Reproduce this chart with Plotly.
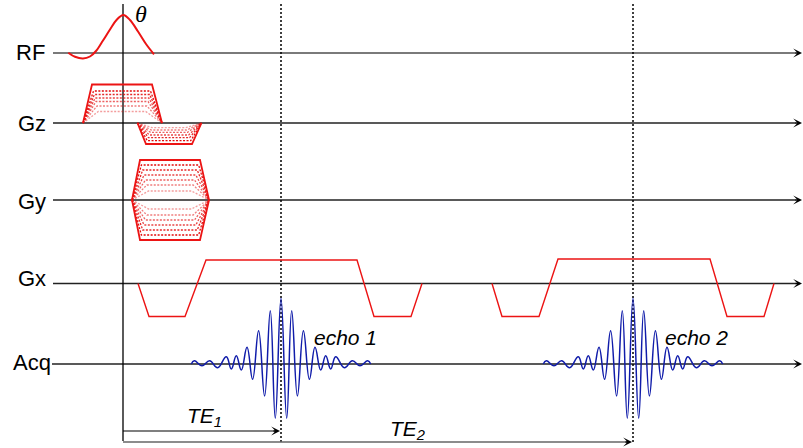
import plotly.graph_objects as go

# ---------------- data (time in display units, amplitude positive = up) ----------------
CHANNELS = ["RF", "Gz", "Gy", "Gx", "Acq"]

# RF sinc pulse
RF_T = [68.3, 75, 83, 90, 96, 103, 110, 116.5, 123.3, 130, 138, 146, 154]
RF_A = [0.3, -3.8, -5.5, -3.5, 2, 12.5, 23.5, 33, 38, 33, 21.5, 9, -1.3]
FLIP_LABEL = "θ"

# Gz slice-select lobe and rephaser: corner times + amplitude levels
GZ_SS_T = [83, 92, 152, 162]
GZ_SS_LEVELS = [38.5, 32, 28.5, 25, 21.5, 17, 11.5]
GZ_RE_T = [137.5, 146, 192, 201.5]
GZ_RE_LEVELS = [-21, -17.7, -14.7, -12, -9.3, -7, -4.7]

# Gy phase-encode table
GY_T = [132, 140, 200, 209]
GY_LEVELS = [40, 35, 30, 25, 20, 15, 9]

# Gx readout (two echoes)
GX_T = [138, 149, 185, 206, 357, 374, 411, 422, None,
        492, 502, 539, 558, 710, 727, 764, 774]
GX_A = [0, -33, -33, 23.5, 23.5, -33, -33, 0, None,
        0, -33, -33, 24.5, 24.5, -33, -33, 0]

# Echo signal extrema (offset from echo centre, amplitude)
ECHO_CENTERS = [281, 633]
ECHO_DT = [-89.7, -86.7, -79, -71.4, -63.4, -54.7, -49.7, -44.7, -39.7, -34, -28.4,
           -22.4, -16.4, -10.7, -5.7, 0, 5.7, 10.7, 16.4, 22.4, 28.4, 34, 39.7,
           44.7, 49.7, 54.7, 63.4, 71.4, 79, 86.7, 89.7]
ECHO_A = [0, 3.3, -1.7, 3.3, -3.7, 7.3, -5, 8.3, -6, 16.7, -15.3,
          33.3, -32, 53.3, -54.3, 65.7, -54.3, 53.3, -32, 33.3, -15.3, 16.7, -6,
          8.3, -5, 7.3, -3.7, 3.3, -1.7, 3.3, 0]
ECHO_LABELS = ["echo 1", "echo 2"]
TE_LABELS = ["TE<sub>1</sub>", "TE<sub>2</sub>"]

# ---------------- layout constants ----------------
W, H = 803, 448
BASE_Y = {"RF": 53, "Gz": 123, "Gy": 200, "Gx": 283.5, "Acq": 364}
AXIS_START = {"RF": 53, "Gz": 53, "Gy": 53, "Gx": 53, "Acq": 52}
AXIS_END = 802
T0 = 123
RED = "rgb(236,20,20)"
BLUE = "rgb(16,28,170)"
FONT = "Liberation Sans, Arial, sans-serif"

fig = go.Figure()


def line(xs, ys, color="black", width=1.3, dash="solid", shape="linear", smoothing=1.0):
    fig.add_trace(go.Scatter(x=xs, y=ys, mode="lines",
                             line=dict(color=color, width=width, dash=dash,
                                       shape=shape, smoothing=smoothing),
                             hoverinfo="skip", showlegend=False))


def y_of(ch, a):
    return None if a is None else BASE_Y[ch] - a


# baselines
for ch in CHANNELS:
    col = "#7a7a7a" if ch == "RF" else "#222222"
    wd = 2.2 if ch == "RF" else 1.3
    line([AXIS_START[ch], AXIS_END - 6], [BASE_Y[ch]] * 2, color=col, width=wd)

# time-zero vertical line
line([T0, T0], [4, 441], color="black", width=1.3)

# echo centre dotted lines
for tc in ECHO_CENTERS:
    line([tc, tc], [4, 442], color="black", width=1.5, dash="2px,2px")


def trapezoid(ch, times, levels, ramp_grow):
    t0, t1, t2, t3 = times
    amax = abs(levels[0])
    n = len(levels)
    # inner levels dotted and fading, outer level solid (drawn last)
    for i in range(n - 1, -1, -1):
        a = levels[i]
        frac = abs(a) / amax
        r1 = (t1 - t0) + (1 - frac) * ramp_grow
        r2 = (t3 - t2) + (1 - frac) * ramp_grow
        xs = [t0, t0 + r1, t3 - r2, t3]
        ys = [y_of(ch, 0), y_of(ch, a), y_of(ch, a), y_of(ch, 0)]
        if i == 0:
            line(xs, ys, color=RED, width=1.8)
        else:
            alpha = 1.0 - 0.6 * (i - 1) / max(1, n - 2)
            line(xs, ys, color=f"rgba(226,10,10,{alpha:.2f})", width=1.3, dash="2px,1.5px")


trapezoid("Gz", GZ_SS_T, GZ_SS_LEVELS, 9)
trapezoid("Gz", GZ_RE_T, GZ_RE_LEVELS, 8)
trapezoid("Gy", GY_T, GY_LEVELS, 11)
trapezoid("Gy", GY_T, [-v for v in GY_LEVELS], 11)

# RF pulse
line(RF_T, [y_of("RF", a) for a in RF_A], color=RED, width=2, shape="spline", smoothing=1.0)

# Gx
line(GX_T, [y_of("Gx", a) for a in GX_A], color=RED, width=1.4)

# echoes
for tc in ECHO_CENTERS:
    line([tc + d for d in ECHO_DT], [y_of("Acq", a) for a in ECHO_A],
         color=BLUE, width=1.5, shape="spline", smoothing=1.25)

# TE arrows (shafts)
line([T0, ECHO_CENTERS[0] - 4], [431, 431], color="black", width=1.2)
line([T0, ECHO_CENTERS[1] - 4], [442, 442], color="#666666", width=1.5)

annotations = []


def arrowhead(x, y):
    annotations.append(dict(x=x, y=y, ax=x - 8, ay=y, xref="x", yref="y", axref="x", ayref="y",
                            showarrow=True, arrowhead=3, arrowsize=1.05, arrowwidth=1.4,
                            arrowcolor="black", text="", standoff=0))


for ch in CHANNELS:
    arrowhead(AXIS_END, BASE_Y[ch])
arrowhead(ECHO_CENTERS[0] - 1, 431)
arrowhead(ECHO_CENTERS[1] - 1, 442)

# channel labels
LABEL_POS = {"RF": (47, 52), "Gz": (48, 123), "Gy": (48, 201), "Gx": (48, 278), "Acq": (53, 362)}
for ch in CHANNELS:
    x, y = LABEL_POS[ch]
    annotations.append(dict(x=x, y=y, xref="x", yref="y", text=ch, showarrow=False,
                            xanchor="right", yanchor="middle",
                            font=dict(family=FONT, size=22, color="black")))

annotations.append(dict(x=141, y=14, xref="x", yref="y", text=f"<i>{FLIP_LABEL}</i>",
                        showarrow=False, xanchor="center", yanchor="middle",
                        font=dict(family="Liberation Serif, serif", size=24, color="black")))

ECHO_LABEL_POS = [(345, 337), (696, 337)]
for (x, y), t in zip(ECHO_LABEL_POS, ECHO_LABELS):
    annotations.append(dict(x=x, y=y, xref="x", yref="y", text=f"<i>{t}</i>", showarrow=False,
                            xanchor="center", yanchor="middle",
                            font=dict(family=FONT, size=21, color="black")))

TE_LABEL_POS = [(204, 417), (407, 430)]
for (x, y), t in zip(TE_LABEL_POS, TE_LABELS):
    annotations.append(dict(x=x, y=y, xref="x", yref="y", text=f"<i>{t}</i>", showarrow=False,
                            xanchor="center", yanchor="middle",
                            font=dict(family=FONT, size=21, color="black")))

fig.update_layout(
    width=W, height=H,
    margin=dict(l=0, r=0, t=0, b=0),
    paper_bgcolor="white", plot_bgcolor="white",
    showlegend=False,
    xaxis=dict(range=[0, W], visible=False, fixedrange=True),
    yaxis=dict(range=[H, 0], visible=False, fixedrange=True),
    annotations=annotations,
)

fig.write_html("out.html")
